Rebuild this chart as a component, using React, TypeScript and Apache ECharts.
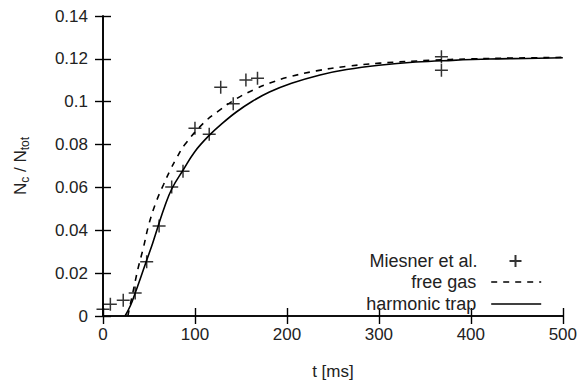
import React, { useEffect, useRef } from "react";
import * as echarts from "echarts";

// Measured data (Miesner et al.) : [t (ms), Nc/Ntot]
const miesnerT = [0, 8, 22, 35, 47.5, 61, 74.7, 87, 100, 115.5, 128, 141.6, 155.4, 168, 368, 368];
const miesnerV = [0.0032, 0.0055, 0.0074, 0.0107, 0.0253, 0.042, 0.0602, 0.0676, 0.0876, 0.0848, 0.1068, 0.0991, 0.1101, 0.1109, 0.121, 0.1147];

// free gas curve
const freeGasT = [27, 32, 38, 44, 50, 58, 66, 73, 80, 89, 109, 125, 145, 165, 181.5, 200, 232, 265, 301, 355, 400, 450, 500];
const freeGasV = [0, 0.01, 0.022, 0.032, 0.043, 0.0535, 0.0615, 0.068, 0.0737, 0.08, 0.0899, 0.0955, 0.1014, 0.1058, 0.1087, 0.1113, 0.1144, 0.1165, 0.118, 0.1193, 0.12, 0.1204, 0.1207];

// harmonic trap curve
const harmonicT = [24, 30, 35, 41, 47.5, 54, 60, 67, 75, 87, 100, 116, 130, 145, 162, 181, 205, 236, 265, 300, 340, 380, 420, 460, 500];
const harmonicV = [0, 0.005, 0.0107, 0.018, 0.026, 0.034, 0.042, 0.051, 0.0595, 0.068, 0.0768, 0.0845, 0.09, 0.0952, 0.1001, 0.1045, 0.1086, 0.1125, 0.115, 0.117, 0.1185, 0.1193, 0.1199, 0.1202, 0.1205];

const xTicks = [0, 100, 200, 300, 400, 500];
const yTicks = ["0", "0.02", "0.04", "0.06", "0.08", "0.1", "0.12", "0.14"];

const FONT = "Liberation Sans";
const FS = 17;
const LFS = 18;
const INK = "#222";

export default function App() {
  const ref = useRef<HTMLDivElement>(null);
  useEffect(() => {
    if (!ref.current) return;
    const chart = echarts.init(ref.current, undefined, { renderer: "svg" });
    const zip = (a: number[], b: number[]) => a.map((v, i) => [v, b[i]]);
    const axisLine = { show: true, lineStyle: { color: "#000", width: 1.6 } };
    const axisTick = { show: true, inside: true, length: 8, lineStyle: { color: "#000", width: 1.4 } };
    const legendBase = {
      orient: "horizontal",
      align: "right",
      right: 38,
      padding: 0,
      itemWidth: 50,
      itemHeight: 12,
      textStyle: { fontFamily: FONT, fontSize: LFS, color: INK, padding: [0, 10, 0, 0] },
      selectedMode: false,
    };
    chart.setOption({
      animation: false,
      backgroundColor: "#fff",
      grid: { left: 103, right: 17, top: 16, bottom: 65 },
      xAxis: [
        {
          type: "value",
          min: xTicks[0],
          max: xTicks[xTicks.length - 1],
          interval: 100,
          name: "t [ms]",
          nameLocation: "middle",
          nameGap: 47,
          nameTextStyle: { fontFamily: FONT, fontSize: FS, color: INK },
          axisLine,
          axisTick,
          splitLine: { show: false },
          axisLabel: { fontFamily: FONT, fontSize: FS, color: INK, margin: 10 },
        },
        {
          type: "value",
          position: "top",
          min: xTicks[0],
          max: xTicks[xTicks.length - 1],
          interval: 100,
          axisLine,
          axisTick,
          splitLine: { show: false },
          axisLabel: { show: false },
        },
      ],
      yAxis: [
        {
          type: "value",
          min: 0,
          max: 0.14,
          interval: 0.02,
          name: "{n|N}{s|c}{n| / N}{s|tot}",
          nameLocation: "middle",
          nameGap: 72,
          nameTextStyle: {
            fontFamily: FONT,
            color: INK,
            rich: {
              n: { fontFamily: FONT, fontSize: FS, color: INK, lineHeight: 22, verticalAlign: "middle" },
              s: { fontFamily: FONT, fontSize: 12, color: INK, lineHeight: 12, verticalAlign: "bottom" },
            },
          },
          axisLine,
          axisTick,
          splitLine: { show: false },
          axisLabel: {
            fontFamily: FONT,
            fontSize: FS,
            color: INK,
            margin: 15,
            formatter: (v: number) => yTicks[Math.round(v / 0.02)] ?? String(v),
          },
        },
        {
          type: "value",
          position: "right",
          min: 0,
          max: 0.14,
          interval: 0.02,
          axisLine,
          axisTick,
          splitLine: { show: false },
          axisLabel: { show: false },
        },
      ],
      legend: [
        {
          ...legendBase,
          right: 56,
          top: 252,
          textStyle: { fontFamily: FONT, fontSize: LFS, color: INK, padding: [0, 8, 0, 0] },
          data: [{ name: "Miesner et al." }],
        },
        {
          ...legendBase,
          top: 273,
          data: [{ name: "free gas", itemStyle: { opacity: 0 }, lineStyle: { type: [6, 6], width: 1.6, color: "#000" } }],
        },
        {
          ...legendBase,
          top: 295,
          data: [{ name: "harmonic trap", itemStyle: { opacity: 0 }, lineStyle: { width: 1.6, color: "#000" } }],
        },
      ],
      series: [
        {
          name: "free gas",
          type: "line",
          xAxisIndex: 0,
          yAxisIndex: 0,
          data: zip(freeGasT, freeGasV),
          smooth: 0.4,
          symbol: "none",
          lineStyle: { color: "#000", width: 1.6, type: [6, 6] },
          itemStyle: { color: "#000" },
        },
        {
          name: "harmonic trap",
          type: "line",
          xAxisIndex: 0,
          yAxisIndex: 0,
          data: zip(harmonicT, harmonicV),
          smooth: 0.4,
          symbol: "none",
          lineStyle: { color: "#000", width: 1.6 },
          itemStyle: { color: "#000" },
        },
        {
          name: "Miesner et al.",
          type: "scatter",
          xAxisIndex: 0,
          yAxisIndex: 0,
          data: zip(miesnerT, miesnerV),
          symbol: "path://M6,0 L6,12 M0,6 L12,6",
          symbolSize: 13,
          itemStyle: { color: "none", borderColor: "#000", borderWidth: 1.5 },
          z: 5,
        },
      ],
    });
    return () => chart.dispose();
  }, []);
  return (
    <div
      ref={ref}
      style={{ position: "fixed", left: 0, top: 0, width: 580, height: 385, background: "#fff" }}
    />
  );
}
